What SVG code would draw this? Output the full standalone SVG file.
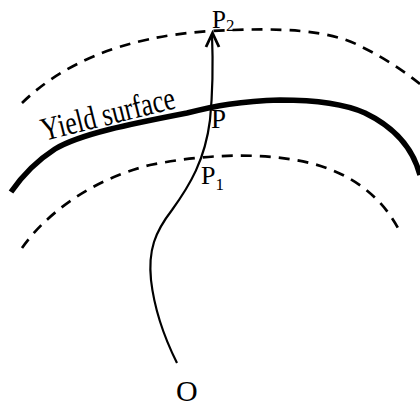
<svg xmlns="http://www.w3.org/2000/svg" width="420" height="406" viewBox="0 0 420 406">
<style>
.t{font-family:"Liberation Serif","Times New Roman",serif;fill:#000}
.dash{fill:none;stroke:#000;stroke-width:2.7;stroke-dasharray:11 8}
</style>
<rect width="420" height="406" fill="#fff"/>
<g id="surfaces">
<path id="outer" class="dash" d="M22,103 C60,66 120,36 213,31 C280,27 330,30 360,46 C385,58 405,72 420,84"/>
<path id="yield" fill="none" stroke="#000" stroke-width="5.5" d="M11,192 C22,176 38,160 55,149 C80,134 130,124 187,113 C215,106 240,101 280,100 C320,100 345,104 365,113 C392,126 412,145 420,175"/>
<path id="inner" class="dash" d="M22,248 C45,215 90,180 150,165 C200,155 260,151 310,163 C350,173 380,195 398,228"/>
</g>
<g id="connectors">
<path d="M177,363 C168,345 155,315 151,280 C148,250 155,232 172,210 C190,185 205,160 210,120 C213,90 213,60 212,34" fill="none" stroke="#000" stroke-width="2.2"/>
<polyline points="206,47 212.5,33 219,47" fill="none" stroke="#000" stroke-width="2.8"/>
</g>
<g id="labels">
<text class="t" transform="translate(44,141) rotate(-14)" font-size="33" textLength="137" lengthAdjust="spacingAndGlyphs">Yield surface</text>
<g id="P2"><text class="t" x="212" y="28" font-size="25">P<tspan font-size="17" dy="3">2</tspan></text></g>
<g id="P"><text class="t" x="211" y="128" font-size="27">P</text></g>
<g id="P1"><text class="t" x="201" y="184" font-size="26">P<tspan font-size="17" dy="6">1</tspan></text></g>
<g id="O"><text class="t" x="176" y="401" font-size="30">O</text></g>
</g>
</svg>
